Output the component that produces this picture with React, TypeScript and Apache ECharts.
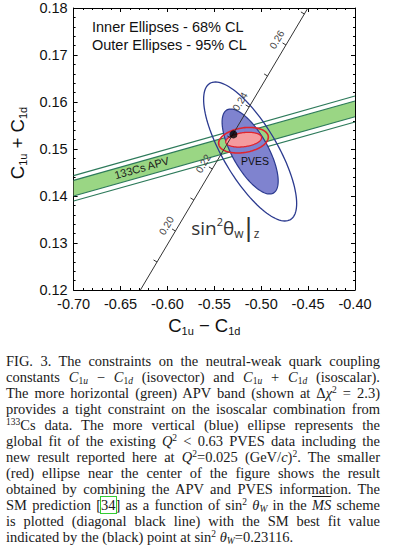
import React, { useEffect, useRef } from 'react';
import * as echarts from 'echarts';

// ---------- Data ----------
// Axis ranges / ticks
const xMin = -0.7;
const xMax = -0.4;
const xStep = 0.05;
const yMin = 0.12;
const yMax = 0.18;
const yStep = 0.01;

// 133Cs APV band: C1u+C1d at C1u-C1d = -0.70 and -0.40
const apvX = [-0.7, -0.4];
const apvInnerUpper = [0.14334, 0.16021];
const apvInnerLower = [0.14, 0.15687];
const apvOuterUpper = [0.14432, 0.16128];
const apvOuterLower = [0.13894, 0.15574];

// Ellipses: centre, half extent in x, half extent in y, correlation
const ellipseNames = ['PVES 95% CL', 'PVES 68% CL', 'APV+PVES 95% CL', 'APV+PVES 68% CL'];
const ellipseCx = [-0.5118, -0.5118, -0.5189, -0.5187];
const ellipseCy = [0.14947, 0.14947, 0.15187, 0.15198];
const ellipseRx = [0.0496, 0.0299, 0.0265, 0.0191];
const ellipseRy = [0.01479, 0.00904, 0.00272, 0.00157];
const ellipseRho = [-0.748, -0.694, 0.24, 0.27];

// Standard Model line (function of sin^2 theta_W)
const smLineX = [-0.6288, -0.4502];
const smLineY = [0.12, 0.18];
const smSin2 = [0.19, 0.2, 0.21, 0.22, 0.23, 0.24, 0.25, 0.26, 0.27];
const smTickX = [-0.6111, -0.5914, -0.5718, -0.5521, -0.5325, -0.5129, -0.4932, -0.4736, -0.454];
const smTickY = [0.12596, 0.13255, 0.13915, 0.14575, 0.15234, 0.15894, 0.16553, 0.17213, 0.17873];
const smLabelled = [false, true, false, true, false, true, false, true, false];
const smBestX = [-0.5296];
const smBestY = [0.15311];

// In-plot annotations (anchored in data space)
const noteText = ['133Cs APV', 'PVES', 'sin'];
const noteX = [-0.6275, -0.5065, -0.5383];
const noteY = [0.146, 0.14745, 0.1332];

// ---------- Styles ----------
const ellipseFill = ['none', '#7f83cf', 'none', '#f59b9e'];
const ellipseStroke = ['#2b3a8f', '#2b3a8f', '#e0242e', '#e0242e'];
const ellipseWidth = [1.3, 1.2, 1.6, 1.3];
const bandFill = '#9ad684';
const bandLine = '#2d7a5a';
const SANS = 'Liberation Sans';

function buildOption() {
  const axisBase = {
    type: 'value' as const,
    axisLine: { show: true, onZero: false, lineStyle: { color: '#000', width: 1 } },
    axisTick: { show: true, inside: true, length: 4, lineStyle: { color: '#000', width: 1 } },
    minorTick: { show: true, splitNumber: 5, length: 2, lineStyle: { color: '#000', width: 1 } },
    splitLine: { show: false },
    minorSplitLine: { show: false },
  };
  const labelStyle = { fontSize: 14.5, fontFamily: SANS, color: '#111', margin: 6 };
  const titleRich = {
    c: { fontSize: 18.5, fontFamily: SANS, color: '#111', lineHeight: 22 },
    o: { fontSize: 18.5, fontFamily: SANS, color: '#111', lineHeight: 22 },
    s: { fontSize: 11, fontFamily: SANS, color: '#111', lineHeight: 13, verticalAlign: 'bottom' },
  };

  const bandLines = [apvOuterUpper, apvInnerUpper, apvInnerLower, apvOuterLower].map((arr, k) => ({
    type: 'line',
    name: 'APV edge ' + k,
    data: [
      [apvX[0], arr[0]],
      [apvX[1], arr[1]],
    ],
    showSymbol: false,
    symbol: 'none',
    silent: true,
    lineStyle: { color: bandLine, width: 1.2 },
    z: 3,
  }));

  return {
    animation: false,
    backgroundColor: '#fff',
    grid: { left: 73, top: 8, width: 282, height: 282, containLabel: false },
    xAxis: [
      {
        ...axisBase,
        min: xMin,
        max: xMax,
        interval: xStep,
        position: 'bottom',
        axisLabel: { ...labelStyle, formatter: (v: number) => v.toFixed(2) },
        name: '{c|C}{s|1u}{o| − }{c|C}{s|1d}',
        nameLocation: 'middle',
        nameGap: 22,
        nameTextStyle: { rich: titleRich, padding: [0, 20, 0, 0] },
      },
      {
        ...axisBase,
        min: xMin,
        max: xMax,
        interval: xStep,
        position: 'top',
        axisLabel: { show: false },
      },
    ],
    yAxis: [
      {
        ...axisBase,
        min: yMin,
        max: yMax,
        interval: yStep,
        position: 'left',
        axisLabel: { ...labelStyle, formatter: (v: number) => v.toFixed(2) },
        name: '{c|C}{s|1u}{o| + }{c|C}{s|1d}',
        nameLocation: 'middle',
        nameGap: 42,
        nameTextStyle: { rich: titleRich, padding: [0, 0, 0, 12] },
      },
      {
        ...axisBase,
        min: yMin,
        max: yMax,
        interval: yStep,
        position: 'right',
        axisLabel: { show: false },
      },
    ],
    graphic: [
      {
        type: 'text',
        left: 92,
        top: 19,
        style: { text: 'Inner Ellipses - 68% CL', fontSize: 14.5, fontFamily: SANS, fill: '#111' },
      },
      {
        type: 'text',
        left: 92,
        top: 37,
        style: { text: 'Outer Ellipses - 95% CL', fontSize: 14.5, fontFamily: SANS, fill: '#111' },
      },
    ],
    series: [
      {
        type: 'custom',
        name: '133Cs APV band',
        clip: true,
        silent: true,
        z: 2,
        data: [[apvX[0], apvInnerUpper[0]]],
        renderItem: (_p: any, api: any) => {
          const pts = [
            api.coord([apvX[0], apvInnerUpper[0]]),
            api.coord([apvX[1], apvInnerUpper[1]]),
            api.coord([apvX[1], apvInnerLower[1]]),
            api.coord([apvX[0], apvInnerLower[0]]),
          ];
          return { type: 'polygon', shape: { points: pts }, style: { fill: bandFill, stroke: 'none' } };
        },
      },
      ...bandLines,
      {
        type: 'custom',
        name: 'ellipses',
        clip: true,
        silent: true,
        z: 4,
        encode: { x: 0, y: 1 },
        data: ellipseCx.map((c, i) => [c, ellipseCy[i], i]),
        renderItem: (_p: any, api: any) => {
          const i = api.value(2) as number;
          const cx = ellipseCx[i];
          const cy = ellipseCy[i];
          const rx = ellipseRx[i];
          const ry = ellipseRy[i];
          const rho = ellipseRho[i];
          const s = Math.sqrt(1 - rho * rho);
          const pts: number[][] = [];
          const n = 120;
          for (let k = 0; k < n; k++) {
            const t = (2 * Math.PI * k) / n;
            pts.push(api.coord([cx + rx * Math.cos(t), cy + ry * (rho * Math.cos(t) + s * Math.sin(t))]));
          }
          return {
            type: 'polygon',
            name: ellipseNames[i],
            shape: { points: pts },
            style: { fill: ellipseFill[i], stroke: ellipseStroke[i], lineWidth: ellipseWidth[i] },
          };
        },
      },
      {
        type: 'line',
        name: 'SM prediction',
        data: [
          [smLineX[0], smLineY[0]],
          [smLineX[1], smLineY[1]],
        ],
        showSymbol: false,
        symbol: 'none',
        silent: true,
        lineStyle: { color: '#333', width: 1 },
        z: 6,
      },
      {
        type: 'custom',
        name: 'SM ticks',
        clip: false,
        silent: true,
        z: 7,
        encode: { x: 0, y: 1 },
        data: smTickX.map((x, i) => [x, smTickY[i], i]),
        renderItem: (_p: any, api: any) => {
          const i = api.value(2) as number;
          const a = api.coord([smLineX[0], smLineY[0]]);
          const b = api.coord([smLineX[1], smLineY[1]]);
          const dx = b[0] - a[0];
          const dy = b[1] - a[1];
          const L = Math.hypot(dx, dy);
          const nx = dy / L;
          const ny = -dx / L;
          const p = api.coord([api.value(0), api.value(1)]);
          const children: any[] = [
            {
              type: 'line',
              shape: { x1: p[0], y1: p[1], x2: p[0] + nx * 4, y2: p[1] + ny * 4 },
              style: { stroke: '#333', lineWidth: 1 },
            },
          ];
          if (smLabelled[i]) {
            children.push({
              type: 'text',
              x: p[0] + nx * 10.5,
              y: p[1] + ny * 10.5,
              rotation: Math.atan2(-dy, dx),
              style: {
                text: smSin2[i].toFixed(2),
                fontSize: 10,
                fontFamily: SANS,
                fill: '#444',
                align: 'center',
                verticalAlign: 'middle',
              },
            });
          }
          return { type: 'group', children };
        },
      },
      {
        type: 'scatter',
        name: 'SM best fit',
        data: [[smBestX[0], smBestY[0]]],
        symbol: 'circle',
        symbolSize: 8,
        itemStyle: { color: '#000' },
        silent: true,
        z: 8,
      },
      {
        type: 'custom',
        name: 'notes',
        clip: false,
        silent: true,
        z: 9,
        encode: { x: 0, y: 1 },
        data: noteX.map((x, i) => [x, noteY[i], i]),
        renderItem: (_p: any, api: any) => {
          const i = api.value(2) as number;
          const p = api.coord([api.value(0), api.value(1)]);
          if (i === 0) {
            const a = api.coord([apvX[0], apvInnerUpper[0]]);
            const b = api.coord([apvX[1], apvInnerUpper[1]]);
            return {
              type: 'text',
              x: p[0],
              y: p[1],
              rotation: Math.atan2(-(b[1] - a[1]), b[0] - a[0]),
              style: {
                text: noteText[0],
                fontSize: 11,
                fontFamily: SANS,
                fill: '#1a1a1a',
                align: 'center',
                verticalAlign: 'middle',
              },
            };
          }
          if (i === 1) {
            return {
              type: 'text',
              x: p[0],
              y: p[1],
              style: {
                text: noteText[1],
                fontSize: 10.5,
                fontFamily: SANS,
                fill: '#111',
                align: 'center',
                verticalAlign: 'middle',
              },
            };
          }
          return {
            type: 'text',
            x: p[0],
            y: p[1],
            style: {
              text: '{m|' + noteText[2] + '}{p|2}{m|θ}{b|w}{r||}{b|z}',
              align: 'center',
              verticalAlign: 'middle',
              rich: {
                m: { fontSize: 19, fontFamily: 'Open Sans', fill: '#333', lineHeight: 24 },
                p: { fontSize: 11, fontFamily: 'Open Sans', fill: '#333', lineHeight: 14, verticalAlign: 'top' },
                b: { fontSize: 12, fontFamily: 'Open Sans', fill: '#333', lineHeight: 12, verticalAlign: 'bottom' },
                r: { fontSize: 24, fontFamily: 'DejaVu Sans', fill: '#333', lineHeight: 24, padding: [0, 1, 0, 1] },
              },
            },
          };
        },
      },
    ],
  };
}

// ---------- Caption ----------
const subS: React.CSSProperties = { fontSize: '9.5px', lineHeight: 0, verticalAlign: '-2px' };
const supS: React.CSSProperties = { fontSize: '9.5px', lineHeight: 0, verticalAlign: '5px' };
const Sb = ({ c }: { c: React.ReactNode }) => <sub style={subS}>{c}</sub>;
const Sp = ({ c }: { c: React.ReactNode }) => <sup style={supS}>{c}</sup>;

const captionLines: React.ReactNode[] = [
  <>FIG. 3. The constraints on the neutral-weak quark coupling</>,
  <>
    constants <i>C</i>
    <Sb c={<>1<i>u</i></>} /> − <i>C</i>
    <Sb c={<>1<i>d</i></>} /> (isovector) and <i>C</i>
    <Sb c={<>1<i>u</i></>} /> + <i>C</i>
    <Sb c={<>1<i>d</i></>} /> (isoscalar).
  </>,
  <>
    The more horizontal (green) APV band (shown at Δ<i>χ</i>
    <Sp c="2" /> = 2.3)
  </>,
  <>provides a tight constraint on the isoscalar combination from</>,
  <>
    <Sp c="133" />
    Cs data. The more vertical (blue) ellipse represents the
  </>,
  <>
    global fit of the existing <i>Q</i>
    <Sp c="2" /> &lt; 0.63 PVES data including the
  </>,
  <>
    new result reported here at <i>Q</i>
    <Sp c="2" />
    =0.025 (GeV/<i>c</i>)<Sp c="2" />. The smaller
  </>,
  <>(red) ellipse near the center of the figure shows the result</>,
  <>obtained by combining the APV and PVES information. The</>,
  <>
    SM prediction [<span style={{ outline: '1px solid #33cc33', outlineOffset: '0px' }}>34</span>] as a function of sin
    <Sp c="2" /> <i>θ</i>
    <Sb c={<i>W</i>} /> in the <span style={{ textDecoration: 'overline' }}><i>MS</i></span> scheme
  </>,
  <>is plotted (diagonal black line) with the SM best fit value</>,
  <>
    indicated by the (black) point at sin<Sp c="2" /> <i>θ</i>
    <Sb c={<i>W</i>} />
    =0.23116.
  </>,
];

export default function App() {
  const ref = useRef<HTMLDivElement>(null);
  useEffect(() => {
    if (!ref.current) return;
    const chart = echarts.init(ref.current, null, { renderer: 'svg' });
    chart.setOption(buildOption() as any);
    return () => chart.dispose();
  }, []);

  return (
    <div
      style={{
        position: 'absolute',
        left: 0,
        top: 0,
        width: 394,
        height: 552,
        background: '#fff',
        overflow: 'hidden',
      }}
    >
      <div ref={ref} style={{ position: 'absolute', left: 0, top: 0, width: 394, height: 345 }} />
      <div
        style={{
          position: 'absolute',
          left: 6,
          top: 353,
          width: 374,
          fontFamily: '"Liberation Serif", serif',
          fontSize: '14.5px',
          color: '#1a1a1a',
        }}
      >
        {captionLines.map((ln, i) => (
          <div
            key={i}
            style={{
              height: 16,
              lineHeight: '16px',
              whiteSpace: 'nowrap',
              textAlign: 'justify',
              textAlignLast: i === captionLines.length - 1 ? 'left' : 'justify',
            }}
          >
            {ln}
          </div>
        ))}
      </div>
    </div>
  );
}
